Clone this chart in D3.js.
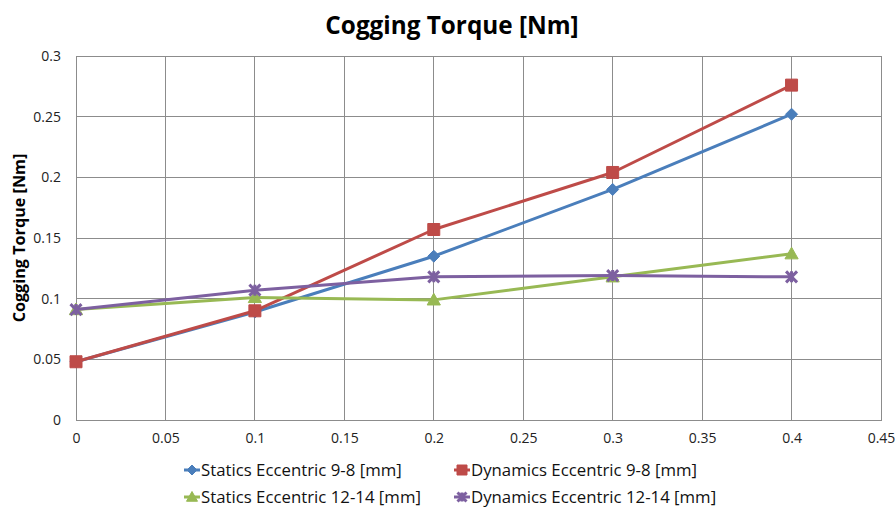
<!DOCTYPE html>
<html>
<head>
<meta charset="utf-8">
<script src="https://cdn.jsdelivr.net/npm/d3@7"></script>
<style>
  html, body { margin: 0; padding: 0; background: #fff; }
  svg { display: block; font-family: "Open Sans", sans-serif; }
</style>
</head>
<body>
<svg id="chart" width="896" height="510"></svg>
<script>
// Eccentricity values (x) and cogging torque per series
const eccentricity = [0, 0.1, 0.2, 0.3, 0.4];
const staticsEcc98 = [0.048, 0.089, 0.135, 0.190, 0.252];
const dynamicsEcc98 = [0.048, 0.090, 0.157, 0.204, 0.276];
const staticsEcc1214 = [0.091, 0.101, 0.099, 0.118, 0.137];
const dynamicsEcc1214 = [0.091, 0.107, 0.118, 0.119, 0.118];

const seriesNames = [
  "Statics Eccentric 9-8 [mm]",
  "Dynamics Eccentric 9-8 [mm]",
  "Statics Eccentric 12-14 [mm]",
  "Dynamics Eccentric 12-14 [mm]"
];
const xTicks = [0, 0.05, 0.1, 0.15, 0.2, 0.25, 0.3, 0.35, 0.4, 0.45];
const yTicks = [0, 0.05, 0.1, 0.15, 0.2, 0.25, 0.3];

const series = [
  { name: seriesNames[0], values: staticsEcc98, color: "#4A7EBB", marker: "diamond" },
  { name: seriesNames[1], values: dynamicsEcc98, color: "#BE4B48", marker: "square" },
  { name: seriesNames[2], values: staticsEcc1214, color: "#98B954", marker: "triangle" },
  { name: seriesNames[3], values: dynamicsEcc1214, color: "#7D60A0", marker: "x" }
];

const svg = d3.select("#chart");
const margin = { left: 76, right: 15, top: 56, bottom: 90 };
const W = 896, H = 510;

const x = d3.scaleLinear().domain([0, 0.45]).range([margin.left, W - margin.right]);
const y = d3.scaleLinear().domain([0, 0.3]).range([H - margin.bottom, margin.top]);

// Gridlines
const grid = svg.append("g");
grid.selectAll("line.v").data(xTicks).join("line")
  .attr("x1", d => x(d)).attr("x2", d => x(d))
  .attr("y1", y(0)).attr("y2", y(0.3))
  .attr("stroke", "#8c8c8c").attr("stroke-width", 1).attr("shape-rendering", "crispEdges");
grid.selectAll("line.h").data(yTicks).join("line")
  .attr("x1", x(0)).attr("x2", x(0.45))
  .attr("y1", d => y(d)).attr("y2", d => y(d))
  .attr("stroke", "#8c8c8c").attr("stroke-width", 1).attr("shape-rendering", "crispEdges");

// Axes
const fmt = d => String(+d.toFixed(2));
const xAxis = svg.append("g").attr("transform", `translate(0,${y(0)})`)
  .call(d3.axisBottom(x).tickValues(xTicks).tickFormat(fmt).tickSize(0).tickPadding(13));
const yAxis = svg.append("g").attr("transform", `translate(${x(0)},0)`)
  .call(d3.axisLeft(y).tickValues(yTicks).tickFormat(fmt).tickSize(0).tickPadding(15));
[xAxis, yAxis].forEach(a => {
  a.attr("font-size", 14).attr("font-family", "'Open Sans', sans-serif");
  a.select(".domain").attr("stroke", "#8c8c8c").attr("shape-rendering", "crispEdges");
  a.selectAll("text").attr("fill", "#222");
});

// Titles
svg.append("text").attr("x", 452).attr("y", 34).attr("text-anchor", "middle")
  .attr("font-size", 24.3).attr("font-weight", "bold").attr("fill", "#000")
  .text("Cogging Torque [Nm]");
svg.append("text").attr("transform", `translate(25,${(y(0) + y(0.3)) / 2}) rotate(-90)`)
  .attr("text-anchor", "middle").attr("font-size", 16.2).attr("font-weight", "bold").attr("fill", "#000")
  .text("Cogging Torque [Nm]");

// Marker shapes
function markerPath(type, s) {
  switch (type) {
    case "diamond": return `M0,${-s}L${s},0L0,${s}L${-s},0Z`;
    case "square": return `M${-s},${-s}H${s}V${s}H${-s}Z`;
    case "triangle": return `M0,${-s * 1.1}L${s * 1.1},${s * 0.85}L${-s * 1.1},${s * 0.85}Z`;
    default: return `M${-s},${-s}L${s},${s}M${s},${-s}L${-s},${s}M0,${-s}V${s}`;
  }
}
function drawMarker(g, type, color, s) {
  const p = g.append("path").attr("d", markerPath(type, s));
  if (type === "x") p.attr("fill", "none").attr("stroke", color).attr("stroke-width", 3);
  else p.attr("fill", color).attr("stroke", color).attr("stroke-width", 1).attr("stroke-linejoin", "round");
}

const line = d3.line().x(d => x(d[0])).y(d => y(d[1]));
const sizes = { diamond: 6, square: 6, triangle: 6, x: 5.5 };

series.forEach(s => {
  const pts = eccentricity.map((e, i) => [e, s.values[i]]);
  svg.append("path").datum(pts).attr("d", line)
    .attr("fill", "none").attr("stroke", s.color).attr("stroke-width", 3)
    .attr("stroke-linejoin", "round");
  pts.forEach(p => {
    const g = svg.append("g").attr("transform", `translate(${x(p[0])},${y(p[1])})`);
    drawMarker(g, s.marker, s.color, sizes[s.marker]);
  });
});

// Legend
const legendPos = [[192, 470], [462, 470], [192, 497], [462, 497]];
series.forEach((s, i) => {
  const [lx, ly] = legendPos[i];
  const g = svg.append("g").attr("transform", `translate(${lx},${ly})`);
  g.append("line").attr("x1", -8).attr("x2", 8).attr("stroke", s.color).attr("stroke-width", 3);
  drawMarker(g, s.marker, s.color, s.marker === "x" ? 4.5 : 5);
  g.append("text").attr("x", 9).attr("y", 6).attr("font-size", 16.8).attr("fill", "#111")
    .text(s.name);
});
</script>
</body>
</html>
